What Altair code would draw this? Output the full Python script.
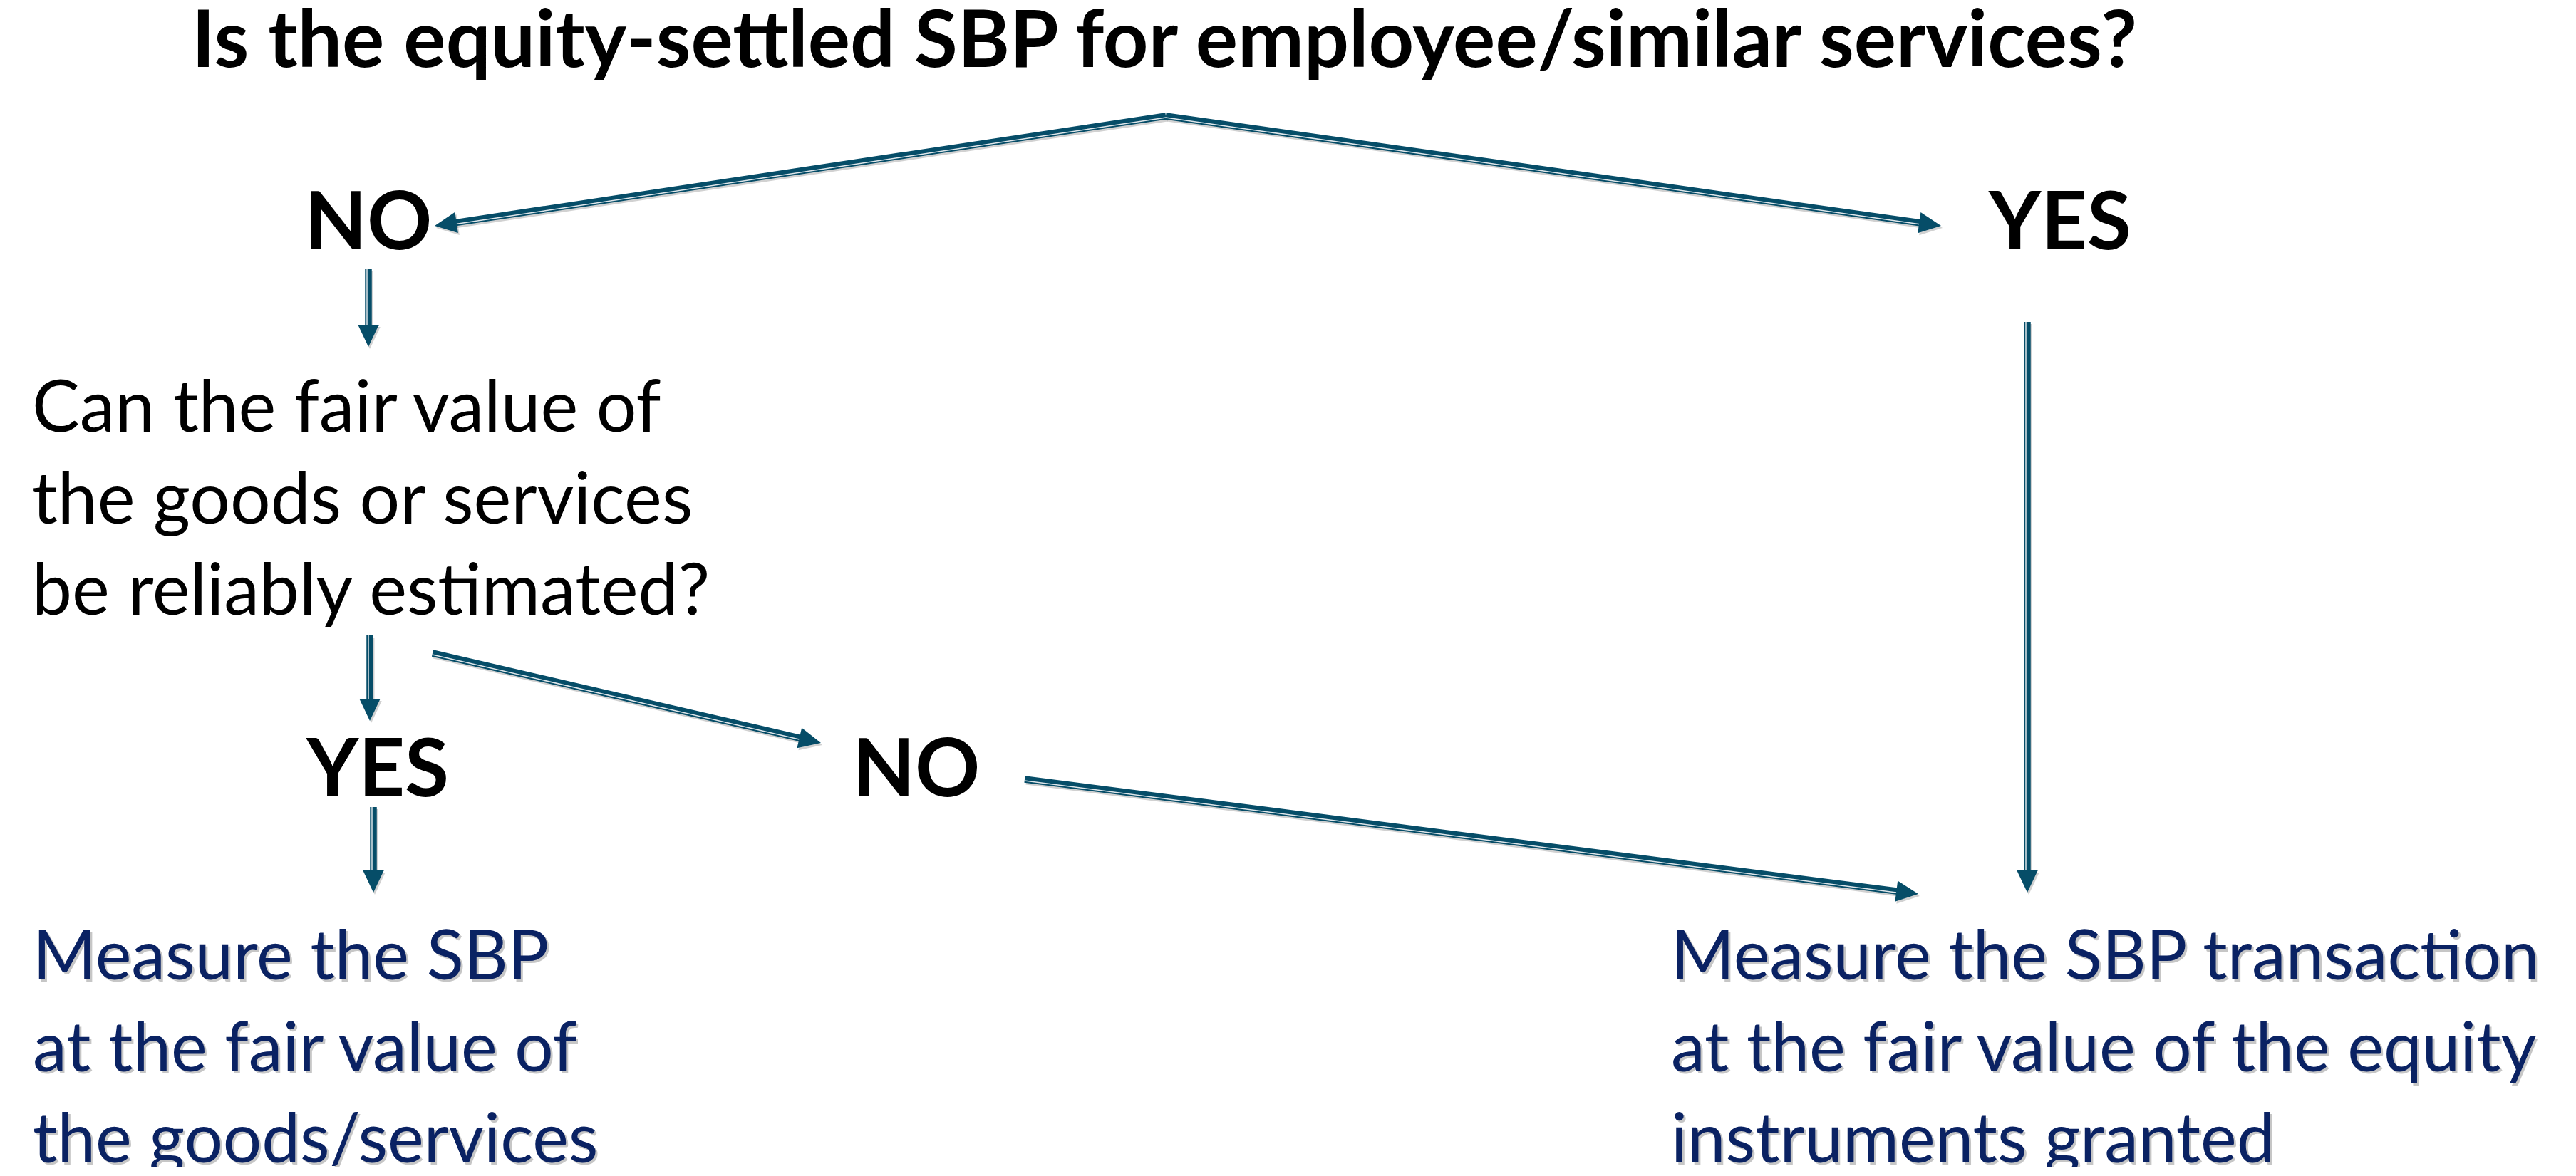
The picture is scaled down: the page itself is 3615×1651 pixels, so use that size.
import math
import altair as alt
import pandas as pd

# ---------------- content ----------------
TITLE = "Is the equity-settled SBP for employee/similar services?"
QUESTION = ["Can the fair value of", "the goods or services", "be reliably estimated?"]
ANSWERS = ["NO", "YES", "YES", "NO"]
OUTCOME_LEFT = ["Measure the SBP", "at the fair value of", "the goods/services"]
OUTCOME_RIGHT = ["Measure the SBP transaction", "at the fair value of the equity", "instruments granted"]

# ---------------- layout (page pixel coordinates) ----------------
TITLE_POS = (1634, 94)
ANSWER_POS = [(517, 350), (2891, 350), (530, 1118), (1286, 1118)]
QUESTION_POS = (45, 606)
LEFT_POS = (46, 1375)
RIGHT_POS = (2345, 1375)
LINE_STEP = 128.5
# arrows: start x, start y, tip x, tip y
ARROW_X1 = [1636, 1636, 517, 2845, 519, 607, 524, 1438]
ARROW_Y1 = [163, 163, 378, 452, 892, 917, 1133, 1094]
ARROW_X2 = [610, 2724, 517, 2845, 519, 1152, 524, 2692]
ARROW_Y2 = [317, 317, 487, 1253, 1012, 1043, 1253, 1255]

# ---------------- style ----------------
TEAL = "#064d68"
NAVY = "#0a2263"
FONT = "Lato"
TITLE_SIZE = 111
LABEL_SIZE = 113
BODY_SIZE = 100
OUT_SIZE = 96
W, H = 3590, 1630
HEAD_LEN = 31

xs = alt.Scale(domain=[8, 8 + W], range=[0, W])
ys = alt.Scale(domain=[8, 8 + H], reverse=True)


def X(f):
    return alt.X(f"{f}:Q", scale=xs, axis=None)


def Y(f):
    return alt.Y(f"{f}:Q", scale=ys, axis=None)


# ---------------- tables ----------------
title_df = pd.DataFrame({"text": [TITLE], "x": [TITLE_POS[0]], "y": [TITLE_POS[1]]})
ans_df = pd.DataFrame({"text": ANSWERS,
                       "x": [p[0] for p in ANSWER_POS],
                       "y": [p[1] for p in ANSWER_POS]})
q_df = pd.DataFrame({"text": QUESTION,
                     "x": [QUESTION_POS[0]] * 3,
                     "y": [QUESTION_POS[1] + i * LINE_STEP for i in range(3)]})
out_df = pd.DataFrame({"text": OUTCOME_LEFT + OUTCOME_RIGHT,
                       "x": [LEFT_POS[0]] * 3 + [RIGHT_POS[0]] * 3,
                       "y": [LEFT_POS[1] + i * LINE_STEP for i in range(3)]
                       + [RIGHT_POS[1] + i * LINE_STEP for i in range(3)]})
out_shadow = out_df.assign(x=out_df.x + 3, y=out_df.y + 3)

rows = []
heads = []
for x1, y1, x2, y2 in zip(ARROW_X1, ARROW_Y1, ARROW_X2, ARROW_Y2):
    dx, dy = x2 - x1, y2 - y1
    L = math.hypot(dx, dy)
    ux, uy = dx / L, dy / L
    ex, ey = x2 - ux * (HEAD_LEN - 8), y2 - uy * (HEAD_LEN - 8)
    nx, ny = -uy, ux
    if ny < 0 or (abs(ny) < 1e-9 and nx > 0):
        nx, ny = -nx, -ny
    rows.append({"x": x1, "y": y1, "x2": ex, "y2": ey,
                 "sx": x1 + nx * 2, "sy": y1 + ny * 2, "sx2": ex + nx * 2, "sy2": ey + ny * 2})
    ang = math.degrees(math.atan2(dy, dx)) % 360
    heads.append({"x": x2 - ux * HEAD_LEN / 2, "y": y2 - uy * HEAD_LEN / 2, "angle": ang})
line_df = pd.DataFrame(rows)
head_df = pd.DataFrame(heads)
line_shadow = line_df.assign(x=line_df.x + 2, y=line_df.y + 3, x2=line_df.x2 + 2, y2=line_df.y2 + 3)
head_shadow = head_df.assign(x=head_df.x + 2, y=head_df.y + 3)

ARROW_SHAPE = "M 1 0 L -1 -0.95 L -1 0.95 Z"

# ---------------- layers ----------------
shadow_rules = alt.Chart(line_shadow).mark_rule(strokeWidth=9, color="#000000", opacity=0.18).encode(
    x=X("x"), y=Y("y"), x2="x2:Q", y2="y2:Q")
rules = alt.Chart(line_df).mark_rule(strokeWidth=9.5, color=TEAL, strokeCap="butt").encode(
    x=X("x"), y=Y("y"), x2="x2:Q", y2="y2:Q")
stripes = alt.Chart(line_df).mark_rule(strokeWidth=1.5, color="#dfe6ea", strokeCap="butt").encode(
    x=X("sx"), y=Y("sy"), x2="sx2:Q", y2="sy2:Q")
head_sh = alt.Chart(head_shadow).mark_point(shape=ARROW_SHAPE, filled=True, size=HEAD_LEN * HEAD_LEN,
                                            color="#000000", opacity=0.18, strokeWidth=0).encode(
    x=X("x"), y=Y("y"), angle=alt.Angle("angle:Q", scale=None))
head = alt.Chart(head_df).mark_point(shape=ARROW_SHAPE, filled=True, size=HEAD_LEN * HEAD_LEN,
                                     color=TEAL, opacity=1, strokeWidth=0).encode(
    x=X("x"), y=Y("y"), angle=alt.Angle("angle:Q", scale=None))

title = alt.Chart(title_df).mark_text(font=FONT, fontSize=TITLE_SIZE, fontWeight="bold", color="black",
                                      align="center", baseline="alphabetic").encode(
    x=X("x"), y=Y("y"), text="text:N")
answers = alt.Chart(ans_df).mark_text(font=FONT, fontSize=LABEL_SIZE, fontWeight="bold", color="black",
                                      align="center", baseline="alphabetic").encode(
    x=X("x"), y=Y("y"), text="text:N")
question = alt.Chart(q_df).mark_text(font=FONT, fontSize=BODY_SIZE, color="black",
                                     align="left", baseline="alphabetic").encode(
    x=X("x"), y=Y("y"), text="text:N")
outs_sh = alt.Chart(out_shadow).mark_text(font=FONT, fontSize=OUT_SIZE, color="#000000", opacity=0.22,
                                          align="left", baseline="alphabetic").encode(
    x=X("x"), y=Y("y"), text="text:N")
outs = alt.Chart(out_df).mark_text(font=FONT, fontSize=OUT_SIZE, color=NAVY,
                                   align="left", baseline="alphabetic").encode(
    x=X("x"), y=Y("y"), text="text:N")

chart = alt.layer(shadow_rules, head_sh, rules, stripes, head, title, answers, question, outs_sh, outs).properties(
    width=W, height=H, padding=0, autosize="none", background="white"
).configure_view(stroke=None)

chart.save("out.html", embed_options={"renderer": "svg", "actions": False})
